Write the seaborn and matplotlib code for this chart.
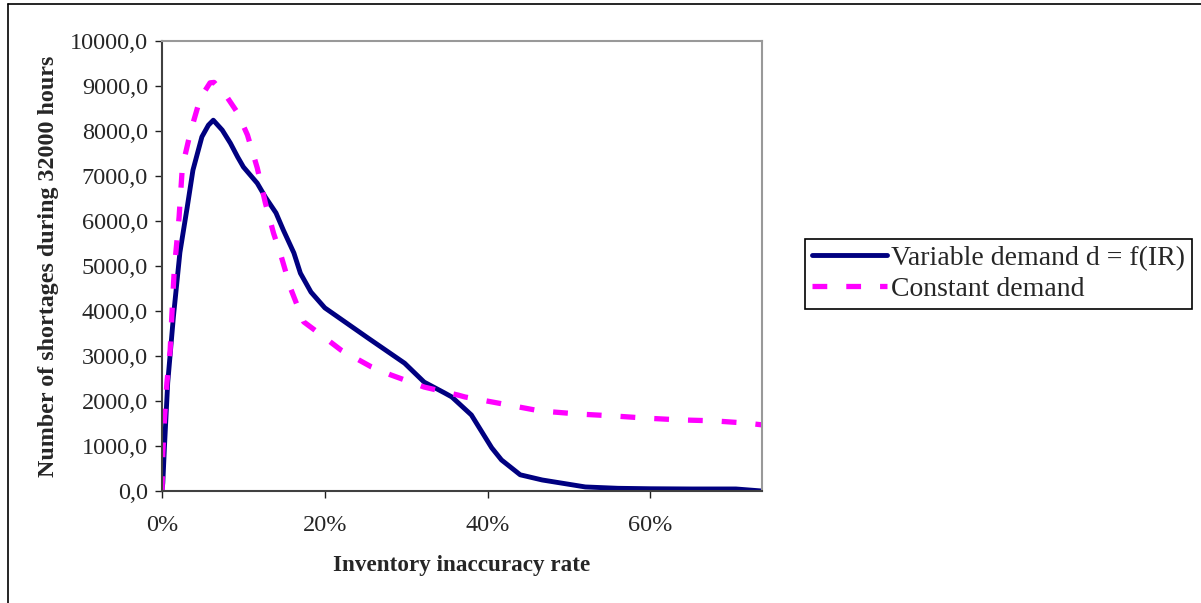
"""Shortages vs inventory inaccuracy rate, variable vs constant demand."""
import matplotlib

matplotlib.use("Agg")
import matplotlib.pyplot as plt
import pandas as pd
import seaborn as sns
from matplotlib.lines import Line2D
from matplotlib.ticker import FuncFormatter

# inventory inaccuracy rate (fraction) for the variable demand curve
IR_VARIABLE = [0, 0.001, 0.003, 0.007, 0.014, 0.022, 0.031, 0.038, 0.049, 0.057,
               0.063, 0.074, 0.084, 0.093, 0.100, 0.117, 0.127, 0.140, 0.149, 0.162,
               0.170, 0.183, 0.200, 0.253, 0.298, 0.322, 0.347, 0.356, 0.380, 0.405,
               0.417, 0.440, 0.467, 0.520, 0.560, 0.600, 0.650, 0.705, 0.737]
SHORT_VARIABLE = [0, 180, 980, 2400, 3870, 5300, 6310, 7130, 7870, 8130,
                  8240, 8020, 7730, 7420, 7200, 6840, 6530, 6180, 5800, 5290,
                  4840, 4420, 4070, 3400, 2840, 2420, 2180, 2090, 1690, 960,
                  690, 360, 245, 90, 60, 50, 45, 45, 0]

# inventory inaccuracy rate (fraction) for the constant demand curve
IR_CONSTANT = [0, 0.001, 0.003, 0.006, 0.010, 0.012, 0.015, 0.021, 0.025, 0.035,
               0.047, 0.059, 0.064, 0.069, 0.080, 0.093, 0.105, 0.117, 0.127, 0.137,
               0.146, 0.158, 0.174, 0.191, 0.220, 0.257, 0.281, 0.322, 0.364, 0.372,
               0.414, 0.464, 0.512, 0.553, 0.594, 0.636, 0.677, 0.717, 0.737]
SHORT_CONSTANT = [0, 840, 1580, 2400, 3130, 3870, 4900, 6090, 7200, 7980,
                  8730, 9070, 9080, 8980, 8750, 8400, 7910, 7180, 6400, 5730,
                  5240, 4500, 3760, 3530, 3130, 2760, 2580, 2310, 2130, 2090,
                  1950, 1780, 1710, 1670, 1620, 1580, 1560, 1510, 1470]

LABEL_VARIABLE = "Variable demand d = f(IR)"
LABEL_CONSTANT = "Constant demand"
X_TICKS = [0, 0.2, 0.4, 0.6]
Y_TICKS = [0, 1000, 2000, 3000, 4000, 5000, 6000, 7000, 8000, 9000, 10000]

NAVY = "#000080"
MAGENTA = "#FF00FF"

sns.set_style("white")
plt.rcParams["font.family"] = ["Liberation Serif", "DejaVu Serif"]

variable_df = pd.DataFrame({"ir": IR_VARIABLE, "shortages": SHORT_VARIABLE})
constant_df = pd.DataFrame({"ir": IR_CONSTANT, "shortages": SHORT_CONSTANT})

fig = plt.figure(figsize=(12.01, 6.03), dpi=100)
ax = fig.add_axes([162 / 1201, 1 - 491 / 603, 600 / 1201, 450 / 603])

sns.lineplot(data=variable_df, x="ir", y="shortages", ax=ax, color=NAVY,
             linewidth=3.5, label=LABEL_VARIABLE, sort=False)
sns.lineplot(data=constant_df, x="ir", y="shortages", ax=ax, color=MAGENTA,
             linewidth=3.8, label=LABEL_CONSTANT, sort=False)
ax.lines[1].set_dashes((2.8, 3.6))

ax.set_xlim(0, 0.737)
ax.set_ylim(0, 10000)
ax.set_xticks(X_TICKS)
ax.set_yticks(Y_TICKS)
ax.xaxis.set_major_formatter(FuncFormatter(lambda v, _: f"{v * 100:.0f}%"))
ax.yaxis.set_major_formatter(FuncFormatter(lambda v, _: f"{v:.1f}".replace(".", ",")))
ax.tick_params(axis="both", direction="out", length=5, width=1, labelsize=17.5,
               color="#202020", bottom=True, left=True, pad=5)
ax.tick_params(axis="x", pad=12)

for side in ("left", "bottom"):
    ax.spines[side].set_color("#404040")
    ax.spines[side].set_linewidth(1.5)
for side in ("top", "right"):
    ax.spines[side].set_color("#999999")
    ax.spines[side].set_linewidth(1.5)

ax.set_xlabel("Inventory inaccuracy rate", fontsize=16.7, fontweight="bold", labelpad=14)
ax.set_ylabel("Number of shortages during 32000 hours", fontsize=17.3, fontweight="bold",
              labelpad=8)

ax.legend(loc="center left", bbox_to_anchor=(805 / 1201, 1 - 274 / 603),
          bbox_transform=fig.transFigure, fontsize=20, frameon=True, fancybox=False,
          edgecolor="black", framealpha=1, handlelength=2.7, handletextpad=0.15,
          borderpad=0.25, labelspacing=0.2, borderaxespad=0)
ax.get_legend().get_frame().set_linewidth(1.2)

# thin outer border of the chart area (only top and left survive the crop)
fig.add_artist(Line2D([8 / 1201, 8 / 1201], [0, 1 - 4 / 603], color="black", lw=1.2))
fig.add_artist(Line2D([8 / 1201, 1], [1 - 4 / 603, 1 - 4 / 603], color="black", lw=1.2))

fig.savefig("out.png", dpi=100)
